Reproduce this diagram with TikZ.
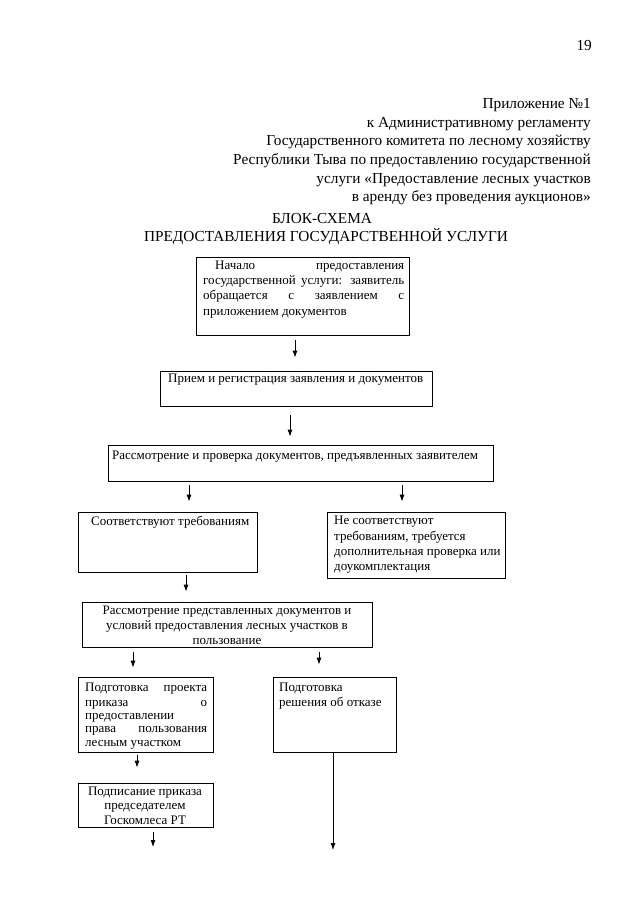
\documentclass[tikz,border=0pt]{standalone}
\usepackage{fontspec}
\setmainfont{Liberation Serif}
\usetikzlibrary{arrows.meta}
\tikzset{
  box/.style={draw=black, line width=0.8pt, inner sep=0pt, rectangle},
  arr/.style={draw=black, line width=0.8pt, -{Latex[length=7pt,width=5pt]}},
  hd/.style={inner sep=0pt, font=\fontsize{15.3}{18}\selectfont, anchor=base east},
  tt/.style={inner sep=0pt, font=\fontsize{15.3}{18}\selectfont, anchor=base},
  bt/.style={inner sep=0pt, font=\fontsize{13}{15}\selectfont, anchor=base west},
  bc/.style={inner sep=0pt, font=\fontsize{13}{15}\selectfont, anchor=base},
}
\newcommand{\bx}[5]{\node[box, minimum width=#4-#2, minimum height=#5-#3] (#1) at ({(#2+#4)/2},{(#3+#5)/2}) {};}
\begin{document}
\begin{tikzpicture}[x=1pt,y=-1pt]
\useasboundingbox[fill=white] (0,0) rectangle (640,905);
% header
\node[hd] (pg) at (592,50) {19};
\node[hd] (h1) at (591,108) {Приложение №1};
\node[hd] (h2) at (591,127) {к Административному регламенту};
\node[hd] (h3) at (591,145.5) {Государственного комитета по лесному хозяйству};
\node[hd] (h4) at (591,164) {Республики Тыва по предоставлению государственной};
\node[hd] (h5) at (591,183) {услуги «Предоставление лесных участков};
\node[hd] (h6) at (591,201.5) {в аренду без проведения аукционов»};
\node[tt] (t1) at (322,223) {БЛОК-СХЕМА};
\node[tt] (t2) at (326,241.5) {ПРЕДОСТАВЛЕНИЯ ГОСУДАРСТВЕННОЙ УСЛУГИ};
% boxes
\bx{b1}{196}{257}{409}{335}
\bx{b2}{160}{371}{432}{406}
\bx{b3}{108}{445}{493}{481}
\bx{b4}{78}{512}{257}{572}
\bx{b5}{327}{512}{505}{578}
\bx{b6}{82}{602}{372}{647}
\bx{b7}{78}{677}{213}{752}
\bx{b8}{273}{677}{396}{752}
\bx{b9}{78}{783}{213}{827}
% box texts
\node[bt] (l11) at (215,269) {\makebox[189pt][s]{Начало предоставления}};
\node[bt] (l12) at (203,284) {\makebox[201pt][s]{государственной услуги: заявитель}};
\node[bt] (l13) at (203,299) {\makebox[201pt][s]{обращается с заявлением с}};
\node[bt] (l14) at (203,315) {приложением документов};
\node[bt] (l21) at (168,382) {Прием и регистрация заявления и документов};
\node[bt] (l31) at (112,459) {Рассмотрение и проверка документов, предъявленных заявителем};
\node[bt] (l41) at (91,525) {Соответствуют требованиям};
\node[bt] (l51) at (334,524) {Не соответствуют};
\node[bt] (l52) at (334,540) {требованиям, требуется};
\node[bt] (l53) at (334,555) {дополнительная проверка или};
\node[bt] (l54) at (334,570) {доукомплектация};
\node[bc] (l61) at (227,614) {Рассмотрение представленных документов и};
\node[bc] (l62) at (227,629) {условий предоставления лесных участков в};
\node[bc] (l63) at (227,644) {пользование};
\node[bt] (l71) at (85,691) {\makebox[122pt][s]{Подготовка проекта}};
\node[bt] (l72) at (85,706) {\makebox[122pt][s]{приказа о}};
\node[bt] (l73) at (85,719) {предоставлении};
\node[bt] (l74) at (85,732) {\makebox[122pt][s]{права пользования}};
\node[bt] (l75) at (85,746) {лесным участком};
\node[bt] (l81) at (279,691) {Подготовка};
\node[bt] (l82) at (279,706) {решения об отказе};
\node[bc] (l91) at (145,795) {Подписание приказа};
\node[bc] (l92) at (145,809) {председателем};
\node[bc] (l93) at (145,824) {Госкомлеса РТ};
% arrow x positions and free ends
\coordinate (x1) at (295,0);
\coordinate (x2) at (290,0);
\coordinate (x3) at (189,0);
\coordinate (x4) at (402,0);
\coordinate (x5) at (186,0);
\coordinate (x6) at (133,0);
\coordinate (x7) at (319,0);
\coordinate (x8) at (137,0);
\coordinate (e9) at (153,847);
\coordinate (e10) at (333,850);
% connectors
\draw[arr, shorten <=5pt, shorten >=13pt] (x1 |- b1.south) -- (x1 |- b2.north);
\draw[arr, shorten <=9pt, shorten >=8pt] (x2 |- b2.south) -- (x2 |- b3.north);
\draw[arr, shorten <=4pt, shorten >=10pt] (x3 |- b3.south) -- (x3 |- b4.north);
\draw[arr, shorten <=4pt, shorten >=10pt] (x4 |- b3.south) -- (x4 |- b5.north);
\draw[arr, shorten <=3pt, shorten >=10pt] (x5 |- b4.south) -- (x5 |- b6.north);
\draw[arr, shorten <=5pt, shorten >=9pt] (x6 |- b6.south) -- (x6 |- b7.north);
\draw[arr, shorten <=5pt, shorten >=12pt] (x7 |- b6.south) -- (x7 |- b8.north);
\draw[arr, shorten <=3pt, shorten >=15pt] (x8 |- b7.south) -- (x8 |- b9.north);
\draw[arr, shorten <=5pt] (e9 |- b9.south) -- (e9);
\draw[arr] (e10 |- b8.south) -- (e10);
\end{tikzpicture}
\end{document}
